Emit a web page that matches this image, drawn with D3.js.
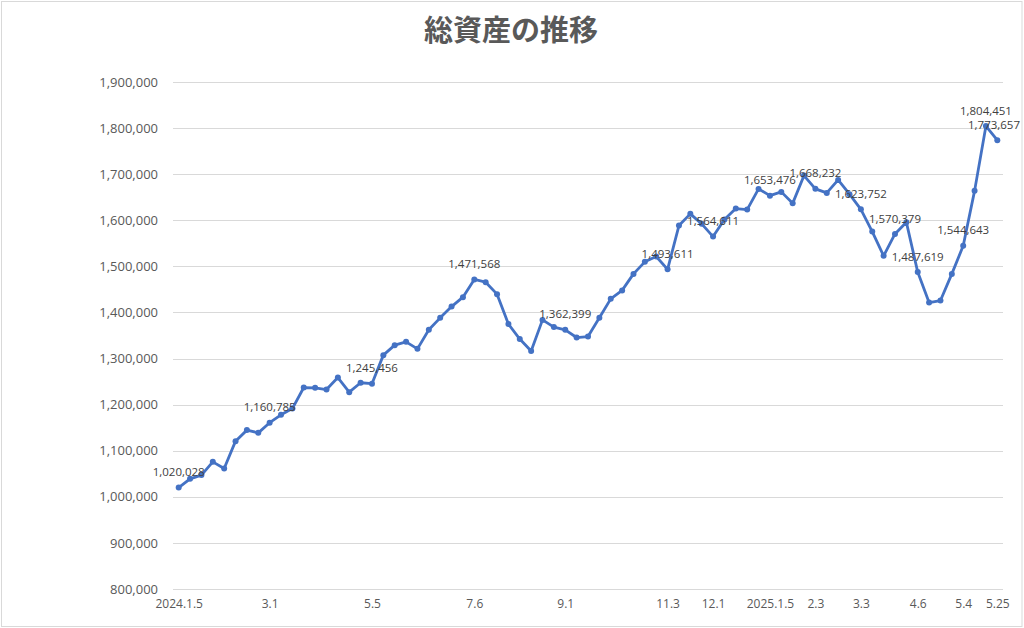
<!DOCTYPE html>
<html>
<head>
<meta charset="utf-8">
<script src="https://cdn.jsdelivr.net/npm/d3@7"></script>
<style>
  html, body { margin: 0; padding: 0; background: #ffffff; }
  svg { display: block; }
</style>
</head>
<body>
<svg id="chart" width="1024" height="628"></svg>
<script>
// ---- data ----
const title = "総資産の推移";
const values = [
  1020028, 1039000, 1047100, 1075900, 1061400, 1120800, 1144700, 1138800, 1160785, 1177900,
  1191500, 1237100, 1236500, 1232800, 1258800, 1227100, 1247500, 1245456, 1307400, 1329100,
  1336200, 1321000, 1362300, 1388300, 1412800, 1433200, 1471568, 1465700, 1439700, 1374800,
  1342300, 1316300, 1383900, 1368300, 1362399, 1345600, 1347700, 1388300, 1429500, 1447900,
  1483700, 1509800, 1521300, 1493611, 1588500, 1613900, 1592200, 1564611, 1601500, 1625400,
  1623200, 1668100, 1653476, 1661600, 1636700, 1697000, 1668232, 1659400, 1687600, 1656600,
  1623752, 1575500, 1522800, 1570379, 1595900, 1487619, 1421500, 1425800, 1483700, 1544643,
  1663800, 1804451, 1773657
];
const xTickLabels = ["2024.1.5", "3.1", "5.5", "7.6", "9.1", "11.3", "12.1", "2025.1.5", "2.3", "3.3", "4.6", "5.4", "5.25"];
const xTickIndex  = [0, 8, 17, 26, 34, 43, 47, 52, 56, 60, 65, 69, 72];
const labeledIndex = [0, 8, 17, 26, 34, 43, 47, 52, 56, 60, 63, 65, 69, 71, 72];
const yTicks = [800000, 900000, 1000000, 1100000, 1200000, 1300000, 1400000, 1500000, 1600000, 1700000, 1800000, 1900000];

// ---- layout ----
const svg = d3.select("#chart");
const W = 1024, H = 628;
const plot = { left: 173, right: 1003, top: 82, bottom: 589 };
const fmt = d3.format(",");

svg.append("rect")
  .attr("x", 1.5).attr("y", 1.5).attr("width", W - 3.5).attr("height", H - 3)
  .attr("fill", "#ffffff").attr("stroke", "#d9d9d9").attr("stroke-width", 1);

const x = d3.scalePoint()
  .domain(d3.range(values.length))
  .range([plot.left, plot.right])
  .padding(0.5);

const y = d3.scaleLinear()
  .domain([800000, 1900000])
  .range([plot.bottom, plot.top]);

// gridlines
svg.append("g").selectAll("line").data(yTicks).join("line")
  .attr("x1", plot.left).attr("x2", plot.right)
  .attr("y1", d => Math.round(y(d)) + 0.5).attr("y2", d => Math.round(y(d)) + 0.5)
  .attr("stroke", "#d9d9d9").attr("stroke-width", 1);

// y axis labels
const yAxis = d3.axisLeft(y).tickValues(yTicks).tickFormat(fmt).tickSize(0).tickPadding(0);
const gy = svg.append("g").attr("transform", `translate(158,0)`).call(yAxis);
gy.select(".domain").remove();
gy.selectAll("text")
  .attr("fill", "#595959")
  .style("font-family", "'Open Sans', 'Noto Sans', sans-serif")
  .style("font-size", "13px");

// x axis labels
const xAxis = d3.axisBottom(x)
  .tickValues(xTickIndex)
  .tickFormat(i => xTickLabels[xTickIndex.indexOf(i)])
  .tickSize(0).tickPadding(0);
const gx = svg.append("g").attr("transform", `translate(0,${plot.bottom + 10})`).call(xAxis);
gx.select(".domain").remove();
gx.selectAll("text")
  .attr("fill", "#595959")
  .style("font-family", "'Open Sans', 'Noto Sans', sans-serif")
  .style("font-size", "12px");

// line
const line = d3.line().x((d, i) => x(i)).y(d => y(d));
svg.append("path")
  .datum(values)
  .attr("d", line)
  .attr("fill", "none")
  .attr("stroke", "#4472c4")
  .attr("stroke-width", 2.8)
  .attr("stroke-linejoin", "round");

// markers
svg.append("g").selectAll("circle").data(values).join("circle")
  .attr("cx", (d, i) => x(i))
  .attr("cy", d => y(d))
  .attr("r", 3)
  .attr("fill", "#4472c4");

// data labels
const lbl = svg.append("g").selectAll("text").data(labeledIndex).join("text")
  .attr("x", i => x(i))
  .attr("y", i => y(values[i]) - 14.5)
  .attr("text-anchor", "middle")
  .attr("dominant-baseline", "middle")
  .attr("fill", "#404040")
  .style("font-family", "'Open Sans', 'Noto Sans', sans-serif")
  .style("font-size", "11.5px")
  .text(i => fmt(values[i]));
lbl.each(function() {
  const b = this.getBBox();
  const maxRight = 1020;
  if (b.x + b.width > maxRight) {
    d3.select(this).attr("x", +d3.select(this).attr("x") - (b.x + b.width - maxRight));
  }
});

// title
svg.append("text")
  .attr("x", 511).attr("y", 33)
  .attr("text-anchor", "middle")
  .attr("dominant-baseline", "middle")
  .attr("fill", "#595959")
  .style("font-family", "'Noto Sans CJK JP', sans-serif")
  .style("font-weight", "bold")
  .style("font-size", "29px")
  .text(title);
</script>
</body>
</html>
